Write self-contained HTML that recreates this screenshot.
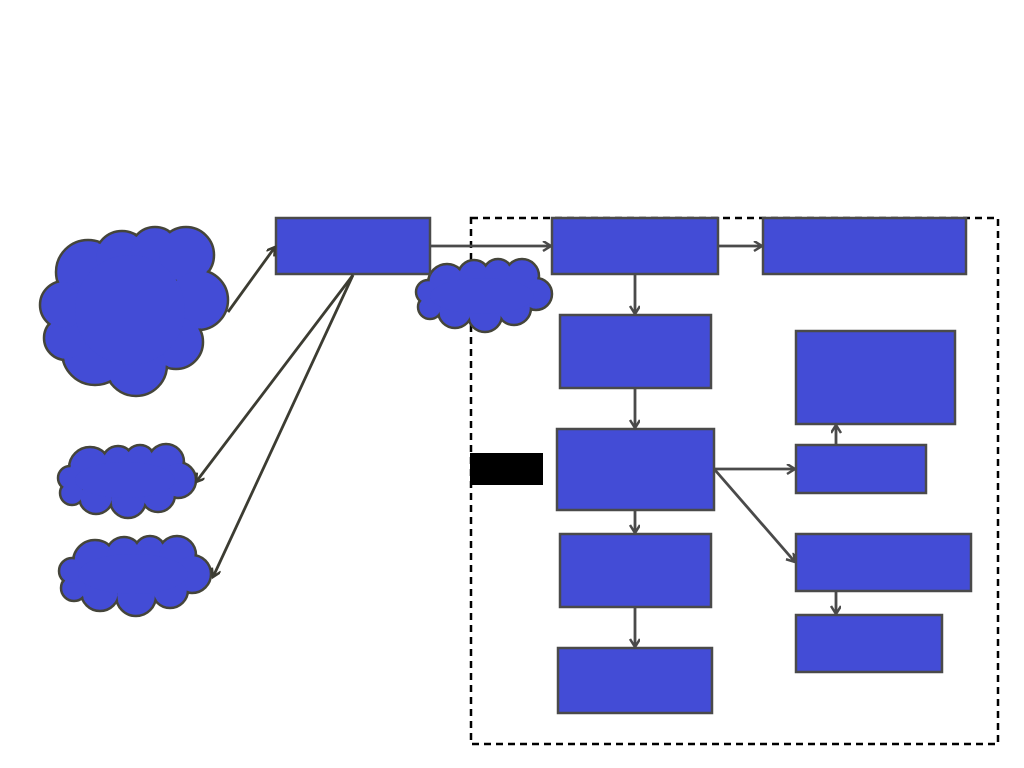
<!DOCTYPE html>
<html><head><meta charset="utf-8"><style>html,body{margin:0;padding:0;background:#fff;width:1024px;height:768px;overflow:hidden}</style></head>
<body>
<svg width="1024" height="768" viewBox="0 0 1024 768" xmlns="http://www.w3.org/2000/svg">
<defs>
<marker id="ah" markerWidth="12" markerHeight="12" refX="9" refY="5" orient="auto" markerUnits="userSpaceOnUse">
<path d="M1,0 L9,5 L1,10" fill="none" stroke="#4a4a4a" stroke-width="2.5"/>
</marker>
<marker id="ah2" markerWidth="12" markerHeight="12" refX="9" refY="5" orient="auto" markerUnits="userSpaceOnUse">
<path d="M1,0 L9,5 L1,10" fill="none" stroke="#3c3c32" stroke-width="2.5"/>
</marker>
</defs>
<rect x="471" y="218" width="527" height="526" fill="none" stroke="#000" stroke-width="2.5" stroke-dasharray="7,5"/>
<rect x="470" y="453" width="73" height="32" fill="#000"/>
<g stroke="#45453a" stroke-width="2.5" fill="#434cd6">
<g>
<circle cx="88" cy="272" r="32"/><circle cx="122" cy="258" r="27"/><circle cx="155" cy="252" r="25"/><circle cx="186" cy="255" r="28"/>
<circle cx="198" cy="300" r="30"/><circle cx="176" cy="342" r="27"/><circle cx="136" cy="365" r="31"/><circle cx="95" cy="352" r="33"/>
<circle cx="66" cy="338" r="22"/><circle cx="64" cy="305" r="24"/>
</g>
<g>
<circle cx="90" cy="468" r="21"/><circle cx="118" cy="462" r="16"/><circle cx="140" cy="460" r="15"/><circle cx="166" cy="462" r="18"/>
<circle cx="178" cy="480" r="18"/><circle cx="158" cy="495" r="17"/><circle cx="128" cy="500" r="18"/><circle cx="96" cy="497" r="17"/>
<circle cx="72" cy="493" r="12"/><circle cx="70" cy="478" r="12"/>
</g>
<g>
<circle cx="95" cy="562" r="22"/><circle cx="124" cy="555" r="18"/><circle cx="150" cy="552" r="16"/><circle cx="177" cy="555" r="19"/>
<circle cx="192" cy="574" r="19"/><circle cx="170" cy="590" r="18"/><circle cx="136" cy="596" r="20"/><circle cx="100" cy="592" r="19"/>
<circle cx="74" cy="588" r="13"/><circle cx="72" cy="571" r="13"/>
</g>
<g>
<circle cx="447" cy="283" r="19"/><circle cx="474" cy="276" r="16"/><circle cx="498" cy="274" r="15"/><circle cx="522" cy="276" r="17"/>
<circle cx="536" cy="294" r="16"/><circle cx="514" cy="308" r="17"/><circle cx="485" cy="315" r="17"/><circle cx="455" cy="311" r="17"/>
<circle cx="430" cy="307" r="12"/><circle cx="428" cy="292" r="12"/>
</g>
</g>
<g fill="#434cd6">
<circle cx="88" cy="272" r="30.5"/><circle cx="122" cy="258" r="25.5"/><circle cx="155" cy="252" r="23.5"/><circle cx="186" cy="255" r="26.5"/>
<circle cx="198" cy="300" r="28.5"/><circle cx="176" cy="342" r="25.5"/><circle cx="136" cy="365" r="29.5"/><circle cx="95" cy="352" r="31.5"/>
<circle cx="66" cy="338" r="20.5"/><circle cx="64" cy="305" r="22.5"/><circle cx="130" cy="310" r="55"/>
<circle cx="90" cy="468" r="19.5"/><circle cx="118" cy="462" r="14.5"/><circle cx="140" cy="460" r="13.5"/><circle cx="166" cy="462" r="16.5"/>
<circle cx="178" cy="480" r="16.5"/><circle cx="158" cy="495" r="15.5"/><circle cx="128" cy="500" r="16.5"/><circle cx="96" cy="497" r="15.5"/>
<circle cx="72" cy="493" r="10.5"/><circle cx="70" cy="478" r="10.5"/><ellipse cx="125" cy="480" rx="50" ry="18"/>
<circle cx="95" cy="562" r="20.5"/><circle cx="124" cy="555" r="16.5"/><circle cx="150" cy="552" r="14.5"/><circle cx="177" cy="555" r="17.5"/>
<circle cx="192" cy="574" r="17.5"/><circle cx="170" cy="590" r="16.5"/><circle cx="136" cy="596" r="18.5"/><circle cx="100" cy="592" r="17.5"/>
<circle cx="74" cy="588" r="11.5"/><circle cx="72" cy="571" r="11.5"/><ellipse cx="133" cy="574" rx="55" ry="20"/>
<circle cx="447" cy="283" r="17.5"/><circle cx="474" cy="276" r="14.5"/><circle cx="498" cy="274" r="13.5"/><circle cx="522" cy="276" r="15.5"/>
<circle cx="536" cy="294" r="14.5"/><circle cx="514" cy="308" r="15.5"/><circle cx="485" cy="315" r="15.5"/><circle cx="455" cy="311" r="15.5"/>
<circle cx="430" cy="307" r="10.5"/><circle cx="428" cy="292" r="10.5"/><ellipse cx="482" cy="296" rx="52" ry="18"/>
</g>
<g fill="#434cd6" stroke="#4a4a4a" stroke-width="2.5">
<rect x="276" y="218" width="154" height="56"/>
<rect x="552" y="218" width="166" height="56"/>
<rect x="763" y="218" width="203" height="56"/>
<rect x="560" y="315" width="151" height="73"/>
<rect x="557" y="429" width="157" height="81"/>
<rect x="560" y="534" width="151" height="73"/>
<rect x="558" y="648" width="154" height="65"/>
<rect x="796" y="331" width="159" height="93"/>
<rect x="796" y="445" width="130" height="48"/>
<rect x="796" y="534" width="175" height="57"/>
<rect x="796" y="615" width="146" height="57"/>
</g>
<g stroke-width="2.8" fill="none">
<line x1="228" y1="312" x2="275" y2="247" stroke="#3c3c32" marker-end="url(#ah2)"/>
<line x1="353" y1="275" x2="196" y2="482" stroke="#3c3c32" marker-end="url(#ah2)"/>
<line x1="353" y1="275" x2="213" y2="577" stroke="#3c3c32" marker-end="url(#ah2)"/>
<line x1="431" y1="246" x2="551" y2="246" stroke="#4a4a4a" marker-end="url(#ah)"/>
<line x1="719" y1="246" x2="762" y2="246" stroke="#4a4a4a" marker-end="url(#ah)"/>
<line x1="635" y1="275" x2="635" y2="314" stroke="#4a4a4a" marker-end="url(#ah)"/>
<line x1="635" y1="389" x2="635" y2="428" stroke="#4a4a4a" marker-end="url(#ah)"/>
<line x1="635" y1="511" x2="635" y2="533" stroke="#4a4a4a" marker-end="url(#ah)"/>
<line x1="635" y1="608" x2="635" y2="647" stroke="#4a4a4a" marker-end="url(#ah)"/>
<line x1="715" y1="469" x2="795" y2="469" stroke="#4a4a4a" marker-end="url(#ah)"/>
<line x1="715" y1="470" x2="795" y2="562" stroke="#4a4a4a" marker-end="url(#ah)"/>
<line x1="836" y1="444" x2="836" y2="425" stroke="#4a4a4a" marker-end="url(#ah)"/>
<line x1="836" y1="592" x2="836" y2="614" stroke="#4a4a4a" marker-end="url(#ah)"/>
</g>
</svg>
</body></html>
